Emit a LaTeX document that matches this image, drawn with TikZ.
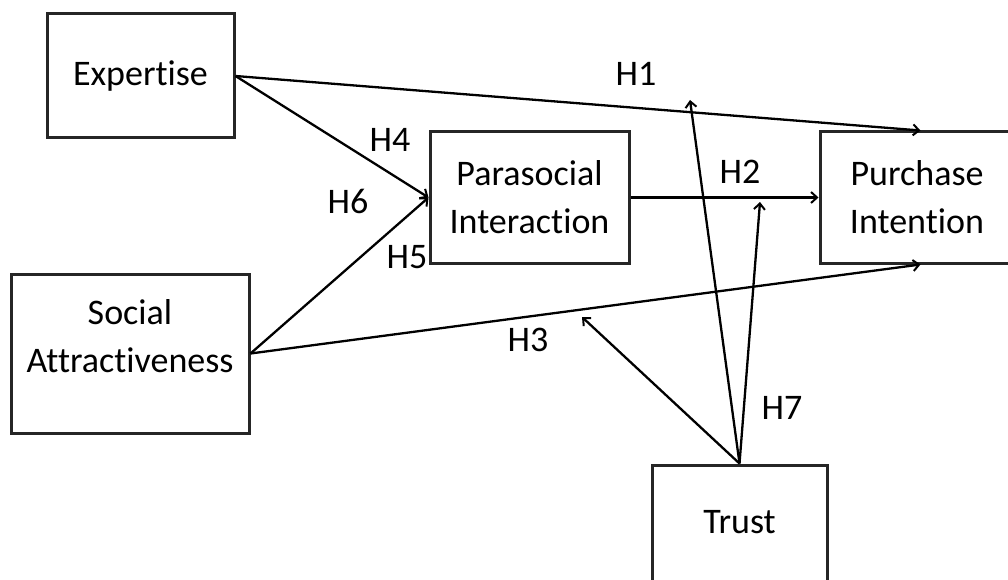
\documentclass[tikz,border=0pt]{standalone}
\usepackage{fontspec}
\setmainfont[Ligatures=NoCommon]{Carlito}
\usetikzlibrary{arrows.meta,calc}
\begin{document}
\begin{tikzpicture}[x=1pt,y=-1pt,
  box/.style={draw=black!85,line width=3pt,inner sep=0pt,align=center,font=\fontsize{36}{48}\selectfont},
  lab/.style={font=\fontsize{36}{48}\selectfont,inner sep=0pt},
  arr/.style={line width=2.3pt,-{Straight Barb[length=6pt,width=11pt,line width=2pt]}}]
\clip (0,0) rectangle (1008,580);
\fill[white] (0,0) rectangle (1008,580);
\node[box,minimum width=187pt,minimum height=124pt] (exp) at (140.5,76) {Expertise};
\node[box,minimum width=238pt,minimum height=159pt,
  label={[lab,align=center,yshift=17pt]center:Social\\Attractiveness}] (soc) at (130,353.5) {};
\node[box,minimum width=199pt,minimum height=131pt] (para) at (529.5,197.5) {Parasocial\\Interaction};
\node[box,minimum width=194pt,minimum height=131pt] (pur) at (917,197.5) {Purchase\\Intention};
\node[box,minimum width=175pt,minimum height=131pt,
  label={[lab,yshift=8pt]center:Trust}] (trust) at (739.5,530.5) {};
\coordinate (p1) at ($(pur.north west)+(102,0)$);
\coordinate (p3) at ($(pur.south west)+(102,0)$);
\coordinate (t1) at (690,100);
\coordinate (t2) at (760,202);
\coordinate (t3) at (582,317);
\draw[arr] (exp.east) -- (p1);
\draw[arr] (exp.east) -- (para.west);
\draw[arr] (soc.east) -- (para.west);
\draw[arr] (soc.east) -- (p3);
\draw[arr] (para.east) -- (pur.west);
\draw[arr] (trust.north) -- (t1);
\draw[arr] (trust.north) -- (t2);
\draw[arr] (trust.north) -- (t3);
\node[lab] (h1) at (636,74) {H1};
\node[lab] (h2) at (740,172) {H2};
\node[lab] (h3) at (528,340) {H3};
\node[lab] (h4) at (390,140) {H4};
\node[lab] (h5) at (407,257) {H5};
\node[lab] (h6) at (348,201) {H6};
\node[lab] (h7) at (782,408) {H7};
\end{tikzpicture}
\end{document}
